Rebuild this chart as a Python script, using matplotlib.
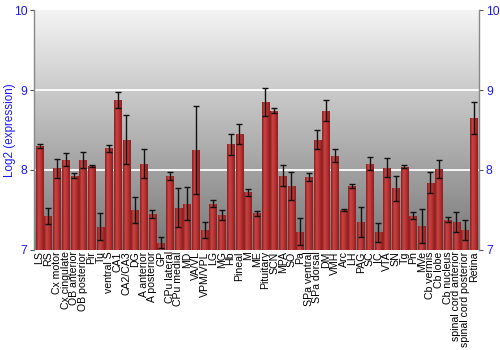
import numpy as np
import matplotlib
matplotlib.use("Agg")
import matplotlib.pyplot as plt
from matplotlib.colors import LinearSegmentedColormap

categories = ["LS", "RS", "Cx motor", "Cx cingulate", "OB anterior", "OB posterior", "Pir", "Tu",
              "ventral S", "CA1", "CA2/CA3", "DG", "A anterior", "A posterior", "GP", "CPu lateral",
              "CPu medial", "MD", "VA/VL", "VPM/VPL", "LG", "MG", "Hb", "Pineal", "M", "ME",
              "Pituitary", "SCN", "MPA", "SO", "Pa", "SPa ventral", "SPa dorsal", "DM", "VMH", "Arc",
              "LH", "PAG", "SC", "IC", "VTA", "SN", "Tg", "Pn", "MVe", "Cb vermis", "Cb lobe",
              "Cb nucleus", "spinal cord anterior", "spinal cord posterior", "Retina"]

values = [8.30, 7.42, 8.02, 8.13, 7.93, 8.12, 8.05, 7.29,
          8.27, 8.87, 8.38, 7.50, 8.08, 7.45, 7.09, 7.93,
          7.53, 7.58, 8.25, 7.25, 7.58, 7.44, 8.32, 8.45, 7.72, 7.46,
          8.85, 8.74, 7.93, 7.80, 7.23, 7.91, 8.38, 8.74, 8.18, 7.50,
          7.80, 7.35, 8.08, 7.22, 8.03, 7.77, 8.04, 7.43, 7.30, 7.84, 8.01,
          7.38, 7.35, 7.25, 8.65]

errors = [0.03, 0.10, 0.12, 0.08, 0.03, 0.10, 0.01, 0.17,
          0.04, 0.10, 0.31, 0.16, 0.18, 0.05, 0.07, 0.05,
          0.24, 0.21, 0.55, 0.10, 0.04, 0.06, 0.13, 0.12, 0.04, 0.03,
          0.17, 0.03, 0.13, 0.18, 0.17, 0.05, 0.12, 0.13, 0.08, 0.01,
          0.03, 0.19, 0.08, 0.12, 0.12, 0.16, 0.02, 0.04, 0.21, 0.13, 0.11,
          0.03, 0.12, 0.12, 0.20]

yticks = [7, 8, 9, 10]

font = ["Liberation Sans", "DejaVu Sans"]
blue = "#1a1aff"

fig = plt.figure(figsize=(5, 3.5), dpi=100)
ax = fig.add_axes([0.0686, 0.286, 0.8894, 0.685])

ymin, ymax = 7, 10
xmin, xmax = -0.6, len(categories) - 0.4
ax.set_xlim(xmin, xmax)
ax.set_ylim(ymin, ymax)

# background gradient: light at top, darker at bottom
bg = LinearSegmentedColormap.from_list("bg", ["#f4f4f4", "#787878"])
grad = np.linspace(1, 0, 256).reshape(-1, 1)
ax.imshow(grad, cmap=bg, aspect="auto", extent=[xmin, xmax, ymin, ymax], zorder=0,
          origin="lower")

for y in [8, 9]:
    ax.axhline(y, color="white", lw=1.3, zorder=1)

x = np.arange(len(categories))
bars = ax.bar(x, np.array(values) - ymin, bottom=ymin, width=0.86,
              color="#b83232", edgecolor="none", zorder=2)

barcmap = LinearSegmentedColormap.from_list("bar", ["#8c1e1e", "#c94545", "#b53030", "#8c1e1e"])
hg = np.linspace(0, 1, 64).reshape(1, -1)
for b in bars:
    im = ax.imshow(hg, cmap=barcmap, aspect="auto",
                   extent=[b.get_x(), b.get_x() + b.get_width(), ymin, b.get_y() + b.get_height()],
                   zorder=2.5)
    im.set_clip_path(b)

ax.errorbar(x, values, yerr=errors, fmt="none", ecolor="#111111", elinewidth=1.0,
            capsize=2, capthick=1.0, zorder=3)

ax.set_xticks(x)
ax.set_xticklabels(categories, rotation=90, fontsize=7.6, family=font, color="black")
ax.tick_params(axis="x", length=0, pad=1)

ax.set_yticks(yticks)
ax.set_yticklabels([str(t) for t in yticks], fontsize=8.7, family=font, color=blue)
ax.tick_params(axis="y", which="both", direction="out", length=3, color="#555555",
               left=True, right=True, labelleft=True, labelright=True, pad=2)

for side in ["top", "bottom"]:
    ax.spines[side].set_visible(False)
for side in ["left", "right"]:
    ax.spines[side].set_color("#888888")
    ax.spines[side].set_linewidth(1.0)

ax.set_ylabel("Log2 (expression)", fontsize=8.4, family=font, color=blue)
ax.yaxis.set_label_coords(-0.042, 0.5)

fig.savefig("out.png", dpi=100)
